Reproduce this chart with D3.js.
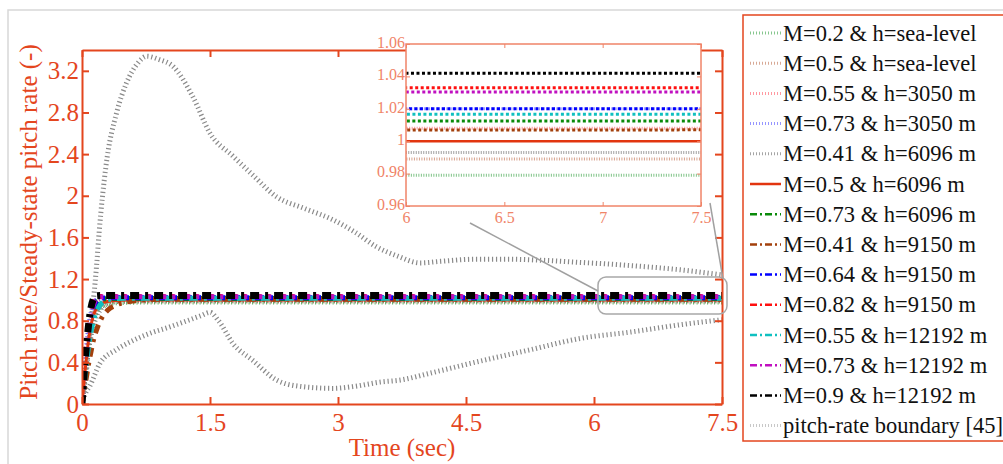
<!DOCTYPE html>
<html>
<head>
<meta charset="utf-8">
<script src="https://cdn.jsdelivr.net/npm/d3@7"></script>
<style>
  body { margin: 0; background: #fff; }
  svg { display: block; font-family: "Liberation Serif", "Times New Roman", serif; }
</style>
</head>
<body>
<svg id="chart" width="1003" height="464"></svg>
<script>
// step responses, sampled on a shared time grid (sec)
const stepTime = [0, 0.02, 0.04, 0.06, 0.08, 0.1, 0.13, 0.17, 0.22, 0.3, 0.4, 0.55, 0.75, 1.0, 7.5]

const m02Sea    = [0, 0.15, 0.3, 0.45, 0.58, 0.68, 0.79, 0.88, 0.93, 0.96, 0.972, 0.977, 0.979, 0.979, 0.979]
const m05Sea    = [0, 0.17, 0.34, 0.49, 0.62, 0.72, 0.83, 0.91, 0.95, 0.975, 0.985, 0.988, 0.989, 0.989, 0.989]
const m055h3050 = [0, 0.19, 0.37, 0.53, 0.67, 0.78, 0.88, 0.95, 0.99, 1.003, 1.007, 1.008, 1.008, 1.008, 1.008]
const m073h3050 = [0, 0.22, 0.42, 0.6, 0.74, 0.85, 0.94, 1.0, 1.016, 1.02, 1.02, 1.02, 1.02, 1.02, 1.02]
const m041h6096 = [0, 0.14, 0.28, 0.41, 0.53, 0.63, 0.74, 0.84, 0.91, 0.96, 0.983, 0.991, 0.993, 0.993, 0.993]
const m05h6096  = [0, 0.18, 0.35, 0.5, 0.63, 0.73, 0.84, 0.92, 0.96, 0.985, 0.995, 0.999, 1.0, 1.0, 1.0]
const m073h6096 = [0, 0.2, 0.39, 0.56, 0.7, 0.81, 0.91, 0.98, 1.005, 1.012, 1.0125, 1.0125, 1.0125, 1.0125, 1.0125]
const m041h9150 = [0, 0.1, 0.2, 0.3, 0.4, 0.48, 0.6, 0.71, 0.81, 0.9, 0.95, 0.985, 1.0, 1.006, 1.007]
const m064h9150 = [0, 0.2, 0.39, 0.56, 0.7, 0.81, 0.92, 0.99, 1.015, 1.02, 1.02, 1.02, 1.02, 1.02, 1.02]
const m082h9150 = [0, 0.22, 0.42, 0.6, 0.75, 0.86, 0.96, 1.02, 1.032, 1.033, 1.033, 1.033, 1.033, 1.033, 1.033]
const m055h12192 = [0, 0.15, 0.3, 0.44, 0.57, 0.67, 0.79, 0.89, 0.96, 1.0, 1.013, 1.016, 1.0166, 1.0166, 1.0166]
const m073h12192 = [0, 0.2, 0.4, 0.58, 0.72, 0.83, 0.94, 1.01, 1.028, 1.03, 1.0304, 1.0304, 1.0304, 1.0304, 1.0304]
const m09h12192  = [0, 0.24, 0.45, 0.63, 0.78, 0.9, 1.0, 1.04, 1.042, 1.042, 1.042, 1.042, 1.042, 1.042, 1.042]

// pitch-rate boundary [45]
const upperTime = [0, 0.05, 0.1, 0.14, 0.17, 0.2, 0.28, 0.41, 0.52, 0.65, 0.76, 0.9, 1.07, 1.3, 1.5, 1.77, 2.0, 2.28, 2.6, 2.94, 3.2, 3.45, 3.7, 3.96, 4.2, 4.6, 5.0, 5.4, 5.84, 6.42, 7.0, 7.5]
const upperVal  = [0, 0.3, 0.75, 1.05, 1.32, 1.64, 2.28, 2.81, 3.08, 3.27, 3.34, 3.31, 3.24, 2.95, 2.6, 2.38, 2.2, 1.99, 1.88, 1.77, 1.65, 1.51, 1.42, 1.355, 1.37, 1.39, 1.39, 1.38, 1.36, 1.33, 1.29, 1.24]
const lowerTime = [0, 0.04, 0.09, 0.21, 0.4, 0.6, 0.8, 0.99, 1.2, 1.4, 1.5, 1.6, 1.77, 2.0, 2.28, 2.55, 2.94, 3.2, 3.49, 3.73, 4.1, 4.55, 5.25, 5.84, 6.42, 7.0, 7.5]
const lowerVal  = [0, 0.1, 0.17, 0.39, 0.52, 0.61, 0.68, 0.73, 0.79, 0.85, 0.88, 0.8, 0.58, 0.42, 0.23, 0.17, 0.15, 0.17, 0.21, 0.23, 0.3, 0.39, 0.52, 0.63, 0.69, 0.76, 0.81]

const legendLabels = [
  "M=0.2 & h=sea-level", "M=0.5 & h=sea-level", "M=0.55 & h=3050 m", "M=0.73 & h=3050 m",
  "M=0.41 & h=6096 m", "M=0.5 & h=6096 m", "M=0.73 & h=6096 m", "M=0.41 & h=9150 m",
  "M=0.64 & h=9150 m", "M=0.82 & h=9150 m", "M=0.55 & h=12192 m", "M=0.73 & h=12192 m",
  "M=0.9 & h=12192 m", "pitch-rate boundary [45]"
]
const xTicks = [0, 1.5, 3, 4.5, 6, 7.5]
const yTicks = [0, 0.4, 0.8, 1.2, 1.6, 2, 2.4, 2.8, 3.2]
const insetXTicks = [6, 6.5, 7, 7.5]
const insetYTicks = [0.96, 0.98, 1, 1.02, 1.04, 1.06]

// styles (colour, kind) for each series in legend order
const seriesValues = [m02Sea, m05Sea, m055h3050, m073h3050, m041h6096, m05h6096, m073h6096,
  m041h9150, m064h9150, m082h9150, m055h12192, m073h12192, m09h12192]
const styles = [
  { c: "#55b060", k: "dot" }, { c: "#c8866a", k: "dot" }, { c: "#ff6f7a", k: "dot" },
  { c: "#6a6aff", k: "dot" }, { c: "#808080", k: "dot" }, { c: "#e2350f", k: "solid" },
  { c: "#0a8a0a", k: "dd" }, { c: "#a3400c", k: "dd" }, { c: "#0000ff", k: "dd" },
  { c: "#ff1010", k: "dd" }, { c: "#10c0c0", k: "dd" }, { c: "#c010c0", k: "dd" },
  { c: "#000000", k: "dd" }
]
const axisColor = "#e4461e"
const insetColor = "#f08468"
const boundColor = "#8a8a8a"

const svg = d3.select("#chart")
svg.append("rect").attr("x", 8).attr("y", 10).attr("width", 1010).attr("height", 470)
  .attr("fill", "none").attr("stroke", "#d8d8d8").attr("stroke-width", 1.5)

// MAIN PLOT
const x = d3.scaleLinear().domain([0, 7.5]).range([82, 722])
const y = d3.scaleLinear().domain([0, 3.4]).range([404, 50])

const main = svg.append("g")
svg.append("clipPath").attr("id", "mainClip").append("rect")
  .attr("x", 82).attr("y", 50).attr("width", 640).attr("height", 354)

const line = (xs, ys) => d3.line().x((d, i) => xs(d.t)).y(d => ys(d.v)).curve(d3.curveMonotoneX)
const toPts = (ts, vs) => ts.map((t, i) => ({ t: t, v: vs[i] }))

const plot = main.append("g").attr("clip-path", "url(#mainClip)")

function boundary(g, xs, ys, w, dash) {
  g.append("path").datum(toPts(upperTime, upperVal)).attr("d", line(xs, ys))
    .attr("fill", "none").attr("stroke", boundColor).attr("stroke-width", w).attr("stroke-dasharray", dash)
  g.append("path").datum(toPts(lowerTime, lowerVal)).attr("d", line(xs, ys))
    .attr("fill", "none").attr("stroke", boundColor).attr("stroke-width", w).attr("stroke-dasharray", dash)
}
boundary(plot, x, y, 5, "1.2,2.8")

function strokeFor(s, big) {
  if (s.k === "dot") return { w: big ? 5 : 3, dash: big ? "1,2.5" : "1,1.5" }
  if (s.k === "solid") return { w: big ? 3 : 2.5, dash: null }
  return { w: big ? 5 : 3, dash: big ? "9,6,3,6" : "3,2.5" }
}

seriesValues.forEach((vals, i) => {
  const st = strokeFor(styles[i], true)
  plot.append("path").datum(toPts(stepTime, vals)).attr("d", line(x, y))
    .attr("fill", "none").attr("stroke", styles[i].c)
    .attr("stroke-width", i === 12 ? 7 : st.w)
    .attr("stroke-dasharray", st.dash)
})

// axes
const xAxis = d3.axisBottom(x).tickValues(xTicks).tickSizeInner(-7).tickSizeOuter(0).tickFormat(d3.format("~g"))
const xTop = d3.axisTop(x).tickValues(xTicks).tickSizeInner(-7).tickSizeOuter(0).tickFormat("")
const yAxis = d3.axisLeft(y).tickValues(yTicks).tickSizeInner(-7).tickSizeOuter(0).tickPadding(3).tickFormat(d3.format("~g"))
const yRight = d3.axisRight(y).tickValues(yTicks).tickSizeInner(-7).tickSizeOuter(0).tickFormat("")

function styleAxis(g, color, size) {
  g.select(".domain").attr("stroke", color).attr("stroke-width", 2)
  g.selectAll(".tick line").attr("stroke", color).attr("stroke-width", 2)
  g.selectAll(".tick text").attr("fill", color).attr("font-size", size).attr("font-family", "Liberation Serif")
}
main.append("g").attr("transform", "translate(0,404)").call(xAxis).call(g => styleAxis(g, axisColor, 25))
  .selectAll(".tick text").attr("y", 27).attr("dy", 0)
main.append("g").attr("transform", "translate(0,50)").call(xTop).call(g => styleAxis(g, axisColor, 25))
main.append("g").attr("transform", "translate(82,0)").call(yAxis).call(g => styleAxis(g, axisColor, 25))
main.append("g").attr("transform", "translate(722,0)").call(yRight).call(g => styleAxis(g, axisColor, 25))

svg.append("text").attr("x", 402).attr("y", 456).attr("text-anchor", "middle")
  .attr("fill", axisColor).attr("font-size", 25).text("Time (sec)")
svg.append("text").attr("transform", "translate(37,222) rotate(-90)").attr("text-anchor", "middle")
  .attr("fill", axisColor).attr("font-size", 25).text("Pitch rate/Steady-state pitch rate (-)")

// zoom marker and connectors
svg.append("rect").attr("x", 598).attr("y", 277).attr("width", 129).attr("height", 37).attr("rx", 8)
  .attr("fill", "none").attr("stroke", "#a8a8a8").attr("stroke-width", 1.5)
svg.append("line").attr("x1", 470).attr("y1", 223).attr("x2", 598).attr("y2", 291)
  .attr("stroke", "#a0a0a0").attr("stroke-width", 1.5)
svg.append("line").attr("x1", 710).attr("y1", 203).attr("x2", 723).attr("y2", 279)
  .attr("stroke", "#a0a0a0").attr("stroke-width", 1.5)

// INSET
const xi = d3.scaleLinear().domain([6, 7.5]).range([406, 701])
const yi = d3.scaleLinear().domain([0.96, 1.06]).range([206, 44])
svg.append("rect").attr("x", 406).attr("y", 44).attr("width", 295).attr("height", 162).attr("fill", "#fff")
svg.append("clipPath").attr("id", "insetClip").append("rect")
  .attr("x", 406).attr("y", 44).attr("width", 295).attr("height", 162)
const inset = svg.append("g").attr("clip-path", "url(#insetClip)")
seriesValues.forEach((vals, i) => {
  const st = strokeFor(styles[i], false)
  inset.append("path").datum(toPts(stepTime, vals)).attr("d", line(xi, yi))
    .attr("fill", "none").attr("stroke", styles[i].c).attr("stroke-width", st.w)
    .attr("stroke-dasharray", st.dash).attr("opacity", styles[i].k === "dot" ? 0.75 : 1)
})
svg.append("rect").attr("x", 406).attr("y", 44).attr("width", 295).attr("height", 162)
  .attr("fill", "none").attr("stroke", insetColor).attr("stroke-width", 1.5)

const ixAxis = d3.axisBottom(xi).tickValues(insetXTicks).tickSizeInner(-4).tickSizeOuter(0).tickFormat(d3.format("~g"))
const ixTop = d3.axisTop(xi).tickValues(insetXTicks).tickSizeInner(-4).tickSizeOuter(0).tickFormat("")
const iyAxis = d3.axisLeft(yi).tickValues(insetYTicks).tickSizeInner(-4).tickSizeOuter(0).tickPadding(1).tickFormat(d3.format("~g"))
const iyRight = d3.axisRight(yi).tickValues(insetYTicks).tickSizeInner(-4).tickSizeOuter(0).tickFormat("")
function styleInset(g) {
  g.select(".domain").attr("stroke", "none")
  g.selectAll(".tick line").attr("stroke", insetColor).attr("stroke-width", 1)
  g.selectAll(".tick text").attr("fill", insetColor).attr("font-size", 16).attr("font-family", "Liberation Serif")
}
svg.append("g").attr("transform", "translate(0,206)").call(ixAxis).call(styleInset)
  .selectAll(".tick text").attr("y", 17).attr("dy", 0)
svg.append("g").attr("transform", "translate(0,44)").call(ixTop).call(styleInset)
svg.append("g").attr("transform", "translate(406,0)").call(iyAxis).call(styleInset)
  .selectAll(".tick text").attr("dy", "0.2em")
svg.append("g").attr("transform", "translate(701,0)").call(iyRight).call(styleInset)

// LEGEND
const legend = svg.append("g")
legend.append("rect").attr("x", 743).attr("y", 15).attr("width", 280).attr("height", 426)
  .attr("fill", "#fff").attr("stroke", axisColor).attr("stroke-width", 1.5)
const rows = legend.selectAll("g.row").data(legendLabels).join("g")
  .attr("class", "row").attr("transform", (d, i) => `translate(0,${33 + i * 30.2})`)
rows.append("line").attr("x1", 750).attr("x2", 781).attr("y1", 0).attr("y2", 0)
  .each(function (d, i) {
    const sel = d3.select(this)
    if (i === 13) {
      sel.attr("stroke", "#c8c8c8").attr("stroke-width", 3).attr("stroke-dasharray", "1,2")
      return
    }
    const s = styles[i]
    sel.attr("stroke", s.c)
    if (s.k === "dot") sel.attr("stroke-width", 3).attr("stroke-dasharray", "1,2").attr("opacity", 0.7)
    else if (s.k === "solid") sel.attr("stroke-width", 2.5)
    else sel.attr("stroke-width", 2.5).attr("stroke-dasharray", "7,3,2,3")
  })
rows.append("text").attr("x", 783).attr("y", 7.5).attr("font-size", 22.5).attr("fill", "#111").text(d => d)
</script>
</body>
</html>
